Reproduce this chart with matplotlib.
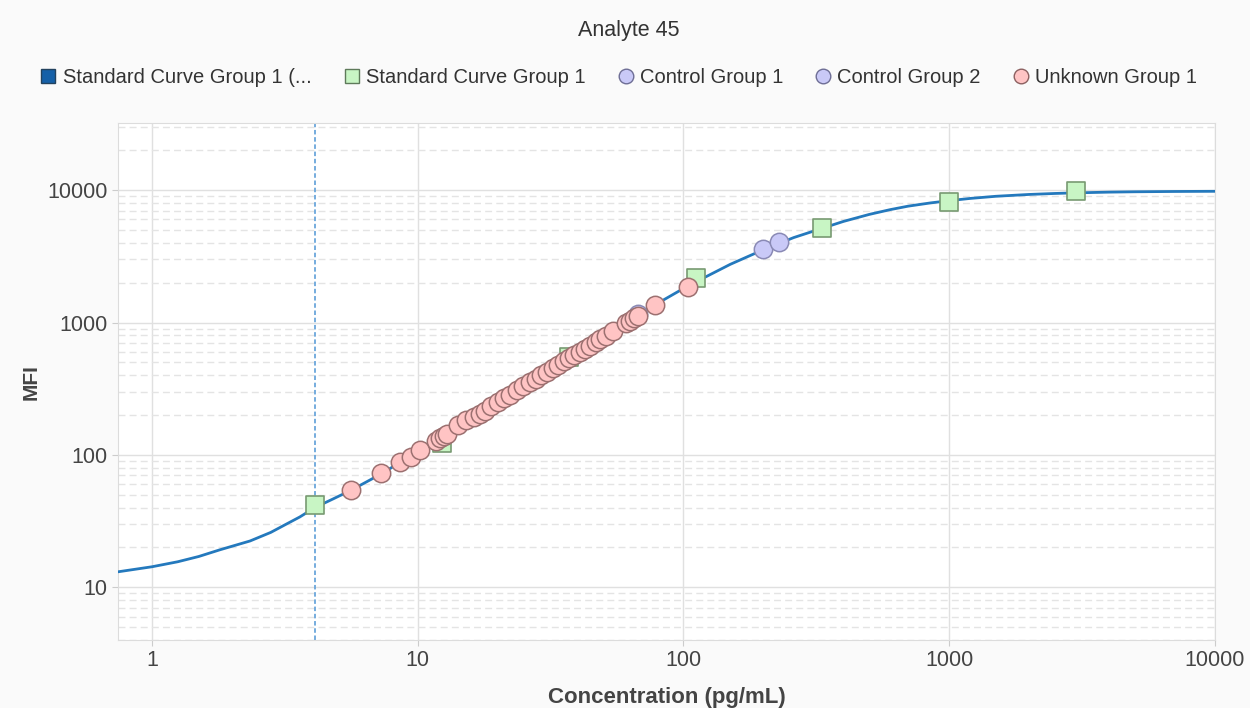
import matplotlib.pyplot as plt
from matplotlib.lines import Line2D
from matplotlib.ticker import FixedLocator, NullFormatter

plt.rcParams['font.family'] = ['Liberation Sans', 'DejaVu Sans']

# fitted standard curve
curve_conc = [0.745, 1.0, 1.25, 1.5, 1.8, 2.34, 2.8, 3.2, 3.6, 4.1, 4.8, 5.6, 7.3, 10, 13.8,
              20, 38, 66, 104, 150, 200, 260, 333, 400, 500, 600, 700, 850, 1000, 1200,
              1500, 2000, 2500, 3000, 4000, 5000, 7000, 10000]
curve_mfi = [13.1, 14.3, 15.6, 17.1, 19.2, 22.4, 26.0, 30, 34, 40, 46.5, 54, 72, 106, 154,
             250, 560, 1120, 1890, 2750, 3550, 4380, 5150, 5800, 6550, 7120, 7560, 8000, 8320, 8650,
             8980, 9270, 9430, 9530, 9650, 9710, 9760, 9790]

std_conc = [4.12, 12.3, 37, 111, 333, 1000, 3000]
std_mfi = [42, 124, 545, 2180, 5180, 8150, 9830]

ctrl1_conc = [67.5, 200]
ctrl1_mfi = [1150, 3590]
ctrl2_conc = [229]
ctrl2_mfi = [4055]

unk_conc = [5.61, 7.28, 8.58, 9.44, 10.2, 11.7, 12.1, 12.6, 12.9, 14.2, 15.2, 16.3,
            17.1, 17.9, 18.9, 20.0, 21.1, 22.3, 23.7, 24.9, 26.5, 27.9, 29.1, 30.7,
            32.3, 33.7, 35.5, 37.1, 38.7, 40.8, 42.6, 44.5, 46.9, 48.5, 51.1, 54.3,
            60.8, 62.9, 65.2, 67.5, 78.2, 104]
unk_mfi = [54, 72.4, 87.7, 97.2, 108, 128, 135, 140, 145, 169, 182, 195,
           205, 216, 236, 252, 271, 285, 311, 333, 357, 377, 404, 425,
           456, 480, 514, 542, 571, 601, 634, 667, 716, 754, 794, 865,
           995, 1030, 1085, 1122, 1358, 1858]

lloq = 4.12

fig = plt.figure(figsize=(12.5, 7.08), dpi=100, facecolor='#fafafa')
ax = fig.add_axes([0.0944, 0.096, 0.8776, 0.73])
ax.set_facecolor('white')

ax.set_xscale('log')
ax.set_yscale('log')
ax.set_xlim(0.745, 10000)
ax.set_ylim(4, 32000)

ax.xaxis.set_major_locator(FixedLocator([1, 10, 100, 1000, 10000]))
ax.set_xticklabels(['1', '10', '100', '1000', '10000'])
ax.xaxis.set_minor_locator(FixedLocator([]))
ax.yaxis.set_major_locator(FixedLocator([10, 100, 1000, 10000]))
ax.set_yticklabels(['10', '100', '1000', '10000'])
ax.yaxis.set_minor_formatter(NullFormatter())

ax.grid(True, which='major', axis='both', color='#e0e0e0', lw=1)
ax.grid(True, which='minor', axis='y', color='#e4e4e4', lw=1, ls=(0, (5, 3)))
ax.set_axisbelow(True)

for s in ax.spines.values():
    s.set_color('#dcdcdc')
ax.tick_params(which='major', length=4, color='#cccccc', labelsize=15.5, labelcolor='#444444')
ax.tick_params(which='minor', length=0)

ax.axvline(lloq, color='#6aa6db', lw=1.3, ls=(0, (2.5, 1.5)), zorder=2)
ax.plot(curve_conc, curve_mfi, color='#2479bd', lw=2, zorder=3)

ax.scatter(std_conc, std_mfi, marker='s', s=155, facecolor='#c8f5c4', edgecolor='#789a72',
           lw=1.2, zorder=4)
ax.scatter(ctrl1_conc, ctrl1_mfi, marker='o', s=175, facecolor='#c9c9f7', edgecolor='#8a8ab5',
           lw=1.1, zorder=5)
ax.scatter(ctrl2_conc, ctrl2_mfi, marker='o', s=175, facecolor='#c9c9f7', edgecolor='#8a8ab5',
           lw=1.1, zorder=5)
ax.scatter(unk_conc, unk_mfi, marker='o', s=175, facecolor='#ffc4c4', edgecolor='#9c7070',
           lw=1.1, zorder=6)

ax.set_xlabel('Concentration (pg/mL)', fontsize=16, fontweight='bold', color='#444444', labelpad=11)
ax.set_ylabel('MFI', fontsize=15, fontweight='bold', color='#444444', labelpad=5)

fig.text(0.503, 0.957, 'Analyte 45', ha='center', va='center', fontsize=15.5, color='#333333')

handles = [
    Line2D([], [], ls='', marker='s', ms=10.5, mfc='#1560a8', mec='#23425e'),
    Line2D([], [], ls='', marker='s', ms=10.5, mfc='#c8f5c4', mec='#5e7a5a'),
    Line2D([], [], ls='', marker='o', ms=10.5, mfc='#c9c9f7', mec='#6e6e95'),
    Line2D([], [], ls='', marker='o', ms=10.5, mfc='#c9c9f7', mec='#6e6e95'),
    Line2D([], [], ls='', marker='o', ms=10.5, mfc='#ffc4c4', mec='#8c6060'),
]
labels = ['Standard Curve Group 1 (...', 'Standard Curve Group 1', 'Control Group 1',
          'Control Group 2', 'Unknown Group 1']
fig.legend(handles, labels, loc='center', bbox_to_anchor=(0.495, 0.891), ncol=5, frameon=False,
           fontsize=14.5, handlelength=0.8, handletextpad=0.3, columnspacing=1.6,
           labelcolor='#333333')

fig.savefig('out.png', dpi=100, facecolor=fig.get_facecolor())
